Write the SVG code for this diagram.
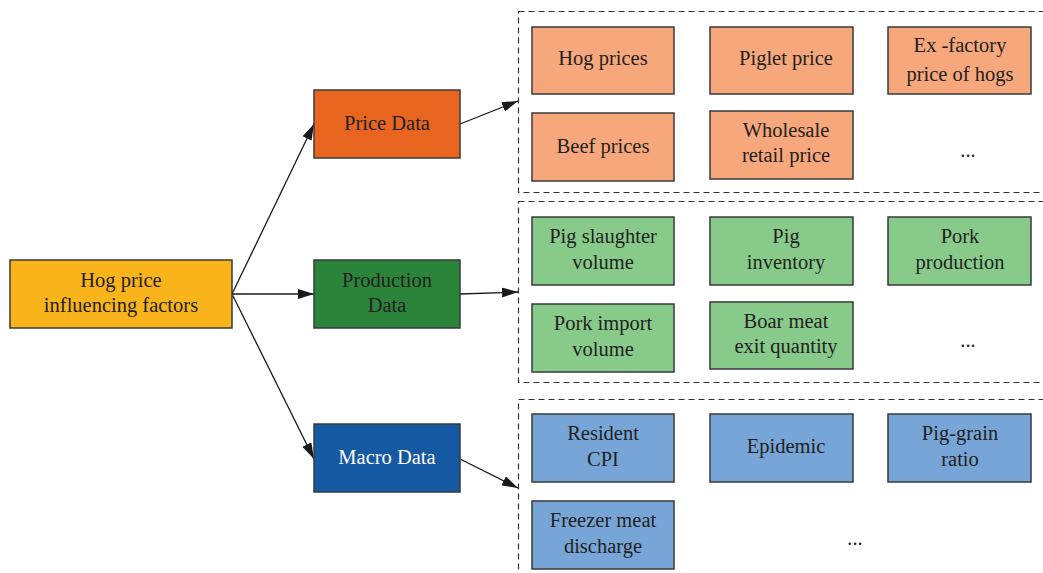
<svg xmlns="http://www.w3.org/2000/svg" width="1043" height="573" viewBox="0 0 1043 573">
<defs>
<marker id="ah" viewBox="0 0 16 10" refX="16" refY="5" markerWidth="16" markerHeight="10" markerUnits="userSpaceOnUse" orient="auto">
<path d="M0,0 L16,5 L0,10 Z" fill="#1a1a1a"/>
</marker>
<style>
.b{stroke:#3a3a3a;stroke-width:1.5}
.t{font-family:"Liberation Serif",serif;font-size:20.5px;fill:#231f20;text-anchor:middle}
.w{fill:#ffffff}
.or{fill:#f6a77c}
.gr{fill:#88ca8a}
.bl{fill:#77a5d7}
.dash{fill:none;stroke:#333;stroke-width:1.2;stroke-dasharray:6,4}
.c{fill:none;stroke:#1a1a1a;stroke-width:1.3;marker-end:url(#ah)}
</style>
</defs>
<rect width="1043" height="573" fill="#ffffff"/>
<g id="groups">
<rect class="dash" x="518.5" y="11.5" width="530" height="181"/>
<rect class="dash" x="518.5" y="201.5" width="530" height="181"/>
<rect class="dash" x="518.5" y="399.5" width="530" height="190"/>
</g>
<g id="connectors">
<line class="c" x1="232" y1="294" x2="314" y2="124"/>
<line class="c" x1="232" y1="294" x2="314" y2="294"/>
<line class="c" x1="232" y1="294" x2="314" y2="459"/>
<line class="c" x1="460" y1="124" x2="518" y2="101"/>
<line class="c" x1="460" y1="294" x2="518" y2="292"/>
<line class="c" x1="460" y1="459" x2="518" y2="488"/>
</g>
<g id="hog-price">
<rect class="b" x="10" y="260" width="222" height="68" fill="#f9b41b"/>
<text class="t" x="121" y="287">Hog price</text>
<text class="t" x="121" y="312">influencing factors</text>
</g>
<g id="price-data">
<rect class="b" x="314" y="90" width="146" height="68" fill="#e8651f"/>
<text class="t" x="387" y="130">Price Data</text>
</g>
<g id="production-data">
<rect class="b" x="314" y="260" width="146" height="68" fill="#2b843a"/>
<text class="t" x="387" y="287">Production</text>
<text class="t" x="387" y="312">Data</text>
</g>
<g id="macro-data">
<rect class="b" x="314" y="424" width="146" height="68" fill="#1559a3"/>
<text class="t w" x="387" y="464">Macro Data</text>
</g>
<g id="hog-prices">
<rect class="b or" x="532" y="27" width="142" height="67"/>
<text class="t" x="603" y="65">Hog prices</text>
</g>
<g id="piglet-price">
<rect class="b or" x="710" y="27" width="143" height="67"/>
<text class="t" x="786" y="65">Piglet price</text>
</g>
<g id="ex-factory">
<rect class="b or" x="888" y="27" width="143" height="67"/>
<text class="t" x="960" y="52">Ex -factory</text>
<text class="t" x="960" y="81">price of hogs</text>
</g>
<g id="beef-prices">
<rect class="b or" x="532" y="113" width="142" height="68"/>
<text class="t" x="603" y="153">Beef prices</text>
</g>
<g id="wholesale">
<rect class="b or" x="710" y="111" width="143" height="68"/>
<text class="t" x="786" y="137">Wholesale</text>
<text class="t" x="786" y="162">retail price</text>
</g>
<text class="t" x="968" y="157">...</text>
<g id="pig-slaughter">
<rect class="b gr" x="532" y="217" width="142" height="68"/>
<text class="t" x="603" y="243">Pig slaughter</text>
<text class="t" x="603" y="269">volume</text>
</g>
<g id="pig-inventory">
<rect class="b gr" x="710" y="217" width="143" height="68"/>
<text class="t" x="786" y="243">Pig</text>
<text class="t" x="786" y="269">inventory</text>
</g>
<g id="pork-production">
<rect class="b gr" x="888" y="217" width="143" height="68"/>
<text class="t" x="960" y="243">Pork</text>
<text class="t" x="960" y="269">production</text>
</g>
<g id="pork-import">
<rect class="b gr" x="532" y="304" width="142" height="68"/>
<text class="t" x="603" y="330">Pork import</text>
<text class="t" x="603" y="356">volume</text>
</g>
<g id="boar-meat">
<rect class="b gr" x="710" y="302" width="143" height="67"/>
<text class="t" x="786" y="328">Boar meat</text>
<text class="t" x="786" y="353">exit quantity</text>
</g>
<text class="t" x="968" y="347">...</text>
<g id="resident-cpi">
<rect class="b bl" x="532" y="414" width="142" height="68"/>
<text class="t" x="603" y="440">Resident</text>
<text class="t" x="603" y="466">CPI</text>
</g>
<g id="epidemic">
<rect class="b bl" x="710" y="414" width="143" height="68"/>
<text class="t" x="786" y="453">Epidemic</text>
</g>
<g id="pig-grain">
<rect class="b bl" x="888" y="414" width="143" height="68"/>
<text class="t" x="960" y="440">Pig-grain</text>
<text class="t" x="960" y="466">ratio</text>
</g>
<g id="freezer-meat">
<rect class="b bl" x="532" y="501" width="142" height="68"/>
<text class="t" x="603" y="527">Freezer meat</text>
<text class="t" x="603" y="553">discharge</text>
</g>
<text class="t" x="855" y="545">...</text>
</svg>
